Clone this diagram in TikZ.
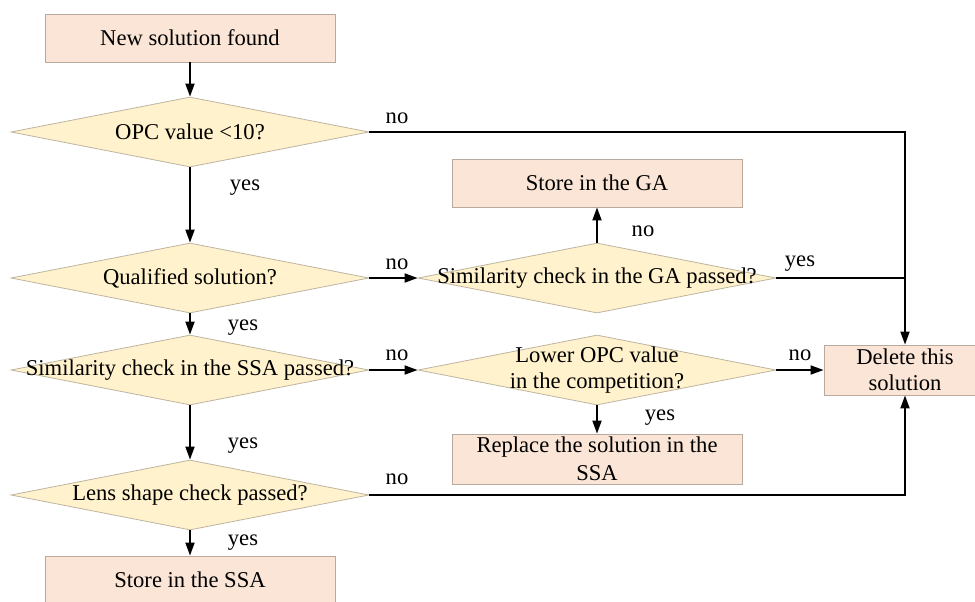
\documentclass[tikz,border=0pt]{standalone}
\usepackage{fontspec}
\setmainfont{Liberation Serif}
\usetikzlibrary{arrows.meta,positioning,shapes.geometric}
\definecolor{boxfill}{RGB}{250,229,214}
\definecolor{boxline}{RGB}{185,170,160}
\definecolor{decfill}{RGB}{255,242,204}
\definecolor{decline}{RGB}{190,180,160}

\begin{document}
\begin{tikzpicture}[
  x=0.5pt, y=-0.5pt,
  font=\fontsize{11.3}{13}\selectfont,
  box/.style={rectangle, draw=boxline, fill=boxfill, minimum width=145pt, minimum height=24pt, align=center, inner sep=0pt},
  dec/.style={diamond, draw=decline, fill=decfill, minimum width=179pt, minimum height=35pt, inner sep=0pt},
  arr/.style={-{Triangle[length=6.5pt,width=4.5pt]}, line width=0.9pt},
  lin/.style={line width=0.9pt},
  lbl/.style={inner sep=0pt, yshift=-1.5pt}
]
\useasboundingbox (0,0) rectangle (975,601);

% left column
\node[box] (start) at (190,38) {New solution found};
\node[dec, label=center:{OPC value <10?}] (opc) at (190,132) {};
\node[dec, label=center:{Qualified solution?}] (qual) at (190,278) {};
\node[dec, label=center:{Similarity check in the SSA passed?}] (simssa) at (190,370) {};
\node[dec, label=center:{Lens shape check passed?}] (lens) at (190,495) {};
\node[box] (storessa) at (190,580) {Store in the SSA};

% middle column
\node[box] (storega) at (597,183) {Store in the GA};
\node[dec, label=center:{Similarity check in the GA passed?}] (simga) at (597,278) {};
\node[dec, label={[align=center]center:{Lower OPC value\\in the competition?}}] (lower) at (597,370) {};
\node[box, minimum height=25pt, font=\fontsize{11.3}{14}\selectfont] (repl) at (597,459) {Replace the solution in the\\SSA};

% right
\node[box, minimum width=81pt, minimum height=25pt] (del) at (905,370) {Delete this\\solution};

\draw[arr] (start) -- (opc);
\draw[arr] (opc) -- (qual);
\draw[arr] (qual) -- (simssa);
\draw[arr] (simssa) -- (lens);
\draw[arr] (lens) -- (storessa);
\draw[arr] (qual) -- (simga);
\draw[arr] (simga) -- (storega);
\draw[lin] (simga.east) -- (simga.east -| del.north);
\draw[arr] (simssa) -- (lower);
\draw[arr] (lower) -- (del);
\draw[arr] (lower) -- (repl);
\draw[arr] (opc.east) -| (del.north);
\draw[arr] (lens.east) -| (del.south);

% yes / no labels
\node[lbl] (n1) at (397,115) {no};
\node[lbl] (y1) at (245,185) {yes};
\node[lbl] (n2) at (397,261) {no};
\node[lbl] (n3) at (643,228) {no};
\node[lbl] (y2) at (800,261) {yes};
\node[lbl] (y3) at (243,325) {yes};
\node[lbl] (n4) at (397,352) {no};
\node[lbl] (n5) at (800,352) {no};
\node[lbl] (y4) at (660,415) {yes};
\node[lbl] (y5) at (243,443) {yes};
\node[lbl] (n6) at (397,476) {no};
\node[lbl] (y6) at (243,540) {yes};
\end{tikzpicture}
\end{document}
